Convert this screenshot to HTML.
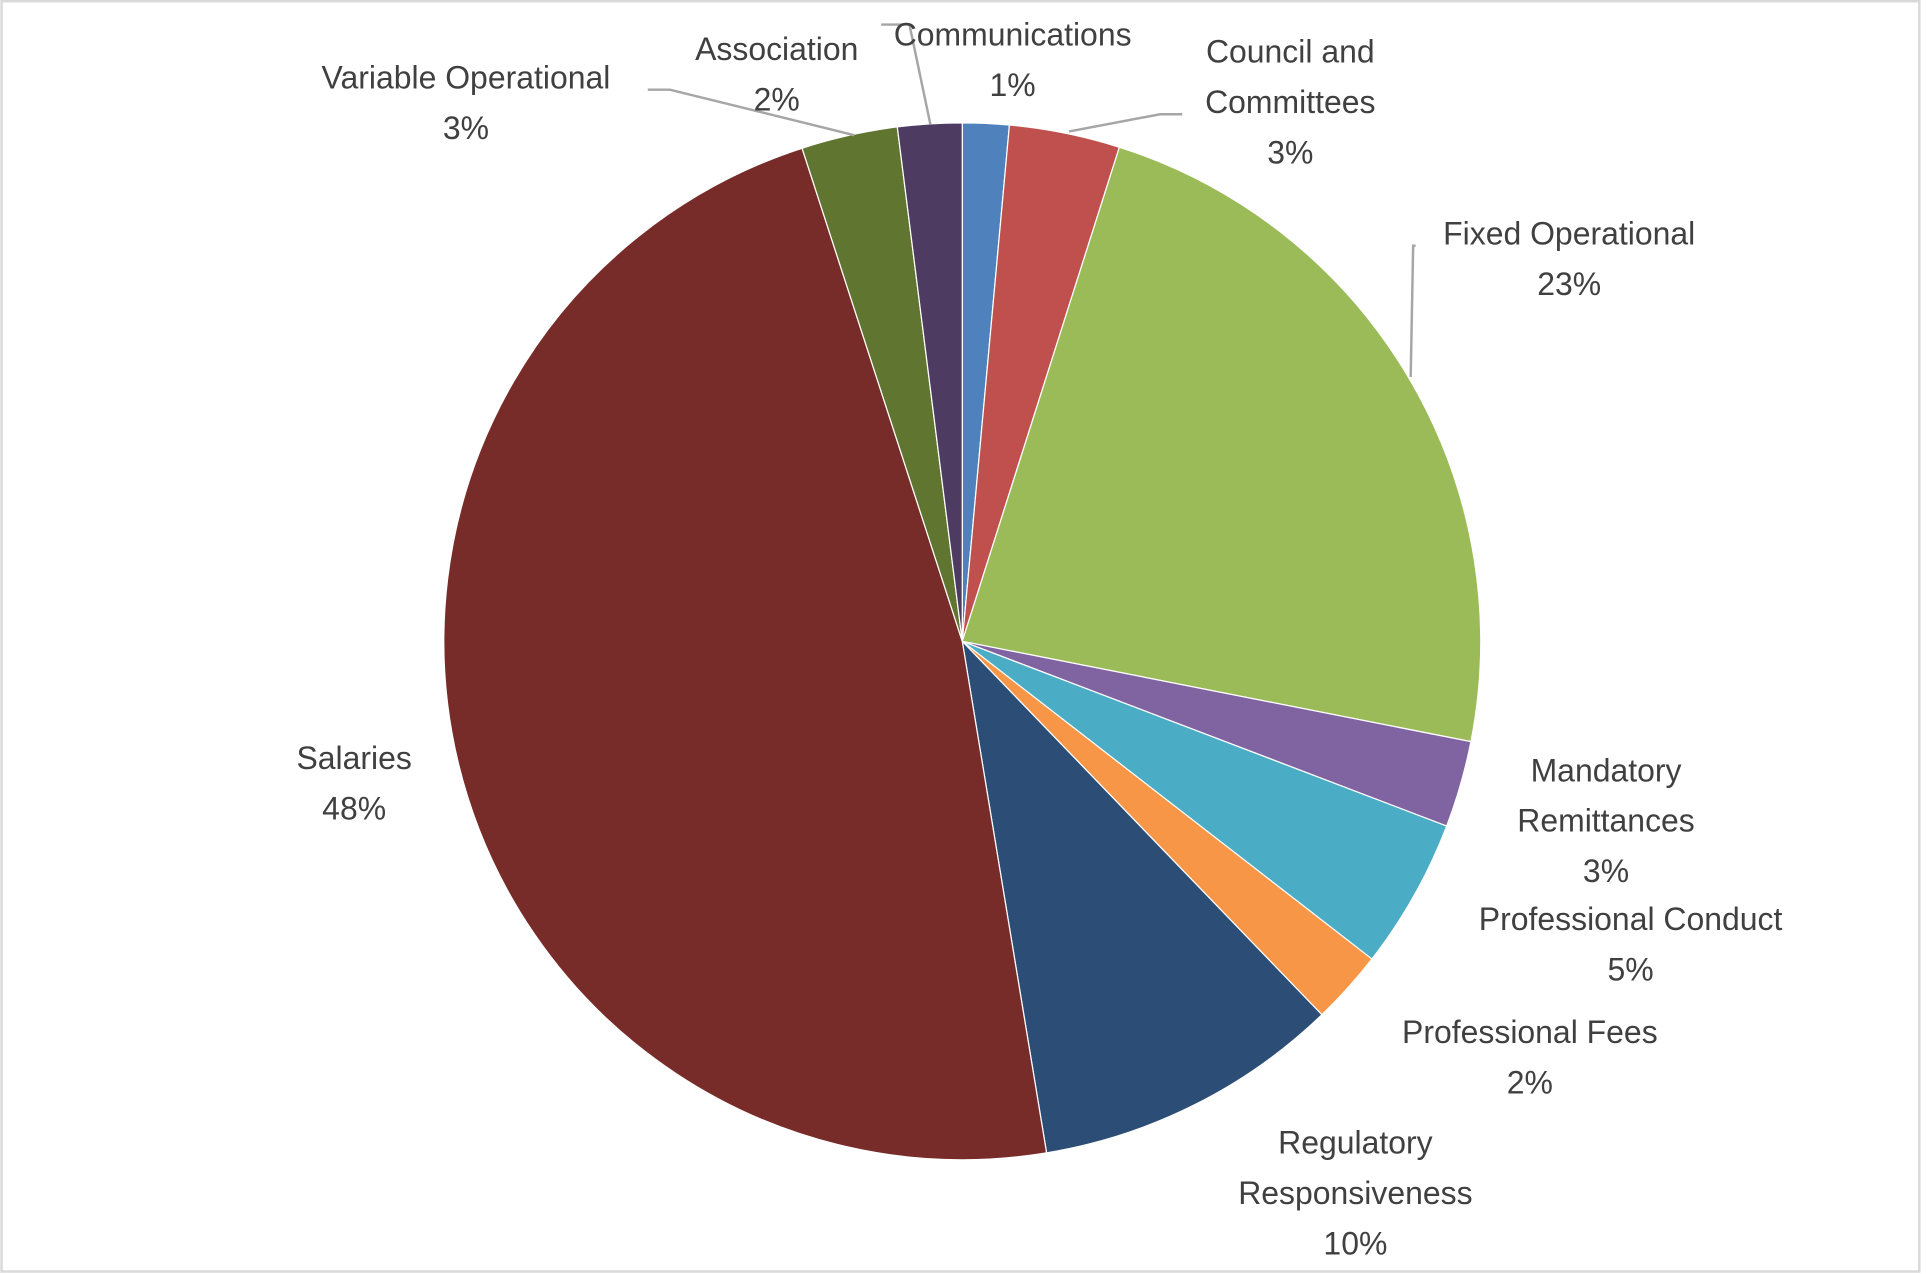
<!DOCTYPE html>
<html><head><meta charset="utf-8"><style>
html,body{margin:0;padding:0;background:#fff;}
svg{display:block;}
text{font-family:"Liberation Sans",sans-serif;font-size:26px;fill:#404040;text-anchor:middle;dominant-baseline:central;}
</style></head><body>
<svg id="chart" width="1927" height="1274" viewBox="0 0 1568 1037" xmlns="http://www.w3.org/2000/svg">
<rect x="1" y="1" width="1561" height="1034" fill="#fff" stroke="#d9d9d9" stroke-width="2"/>
<g id="slices"></g>
<g id="leaders" stroke="#a6a6a6" stroke-width="2" fill="none">
<polyline points="527,73 545,73 695,110"/>
<polyline points="717,20 740,20 757,101"/>
<polyline points="870,107 944,93 962,93"/>
<polyline points="1148,307 1150,200 1152,200"/>
</g>
<g id="labels"></g>
</svg>
<script>
const categories = ["Communications","Council and Committees","Fixed Operational","Mandatory Remittances","Professional Conduct","Professional Fees","Regulatory Responsiveness","Salaries","Variable Operational","Association"];
const values = [1.45,3.45,23.2,2.7,4.7,2.3,9.6,47.6,3.0,2.0];
const pctLabels = ["1%","3%","23%","3%","5%","2%","10%","48%","3%","2%"];
const colors = ["#4F81BD","#C0504D","#9BBB59","#8064A2","#4BACC6","#F79646","#2C4D75","#772C2A","#5F7530","#4D3B62"];
const labelLines = [["Communications"],["Council and","Committees"],["Fixed Operational"],["Mandatory","Remittances"],["Professional Conduct"],["Professional Fees"],["Regulatory","Responsiveness"],["Salaries"],["Variable Operational"],["Association"]];
const labelPos = [[824,28],[1050,42],[1277,190],[1307,627],[1327,748],[1245,840],[1103,930],[288,617],[379,63],[632,40]];
const cx=783, cy=522, r=422;
const NS="http://www.w3.org/2000/svg";
const total = values.reduce((a,b)=>a+b,0);
function pt(a){return [cx+r*Math.sin(a), cy-r*Math.cos(a)];}
const sg=document.getElementById('slices');
let acc=0;
values.forEach((v,i)=>{
  const a0=acc/total*2*Math.PI; acc+=v; const a1=acc/total*2*Math.PI;
  const p0=pt(a0), p1=pt(a1);
  const large=(a1-a0)>Math.PI?1:0;
  const p=document.createElementNS(NS,'path');
  p.setAttribute('d',`M${cx},${cy} L${p0[0]},${p0[1]} A${r},${r} 0 ${large} 1 ${p1[0]},${p1[1]} Z`);
  p.setAttribute('fill',colors[i]);
  p.setAttribute('stroke','#fff');
  p.setAttribute('stroke-width','1');
  
  
  sg.appendChild(p);
});
const lg=document.getElementById('labels');
categories.forEach((c,i)=>{
  const t=document.createElementNS(NS,'text');
  
  
  const lines=labelLines[i].concat([pctLabels[i]]);
  lines.forEach((s,j)=>{
    const ts=document.createElementNS(NS,'tspan');
    ts.setAttribute('x',labelPos[i][0]);
    ts.setAttribute('y',labelPos[i][1]+j*41);
    ts.textContent=s;
    t.appendChild(ts);
  });
  lg.appendChild(t);
});
</script>
</body></html>
